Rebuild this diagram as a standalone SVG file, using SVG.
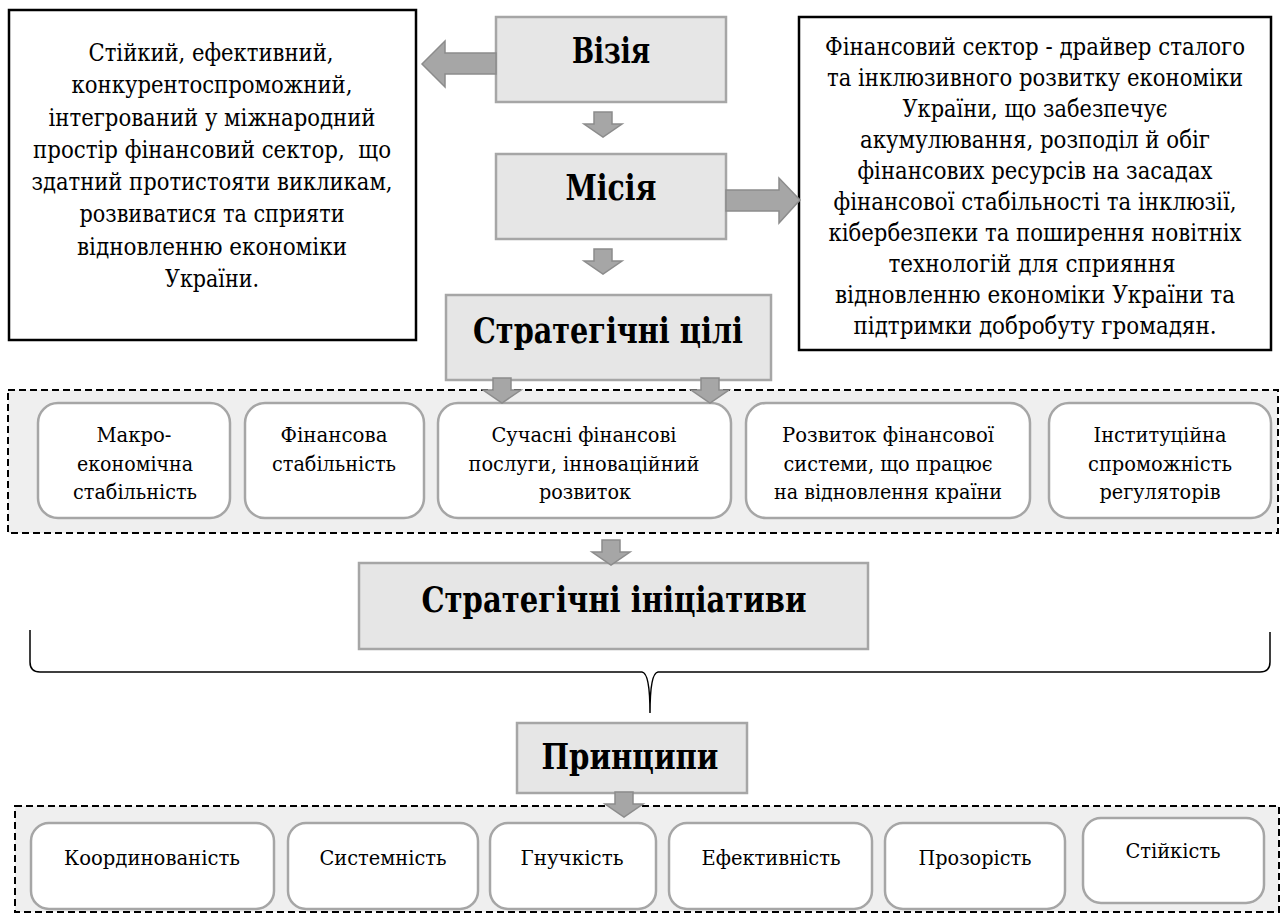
<svg xmlns="http://www.w3.org/2000/svg" width="1284" height="916" viewBox="0 0 1284 916">
<style>
text{font-family:'DejaVu Serif Condensed','DejaVu Serif','Liberation Serif',serif;fill:#000;text-anchor:middle}
.desc{font-size:23.5px}
.head{font-size:35px;font-weight:bold}
.item{font-size:20.5px}
.blk{fill:#fff;stroke:#000;stroke-width:2.5}
.grey{fill:#e6e6e6;stroke:#a6a6a6;stroke-width:2.5}
.cont{fill:#efefef;stroke:#000;stroke-width:2;stroke-dasharray:7 4}
.rbox{fill:#fff;stroke:#a6a6a6;stroke-width:2.5}
.arr{fill:#a6a6a6;stroke:#8c8c8c;stroke-width:1.5}
</style>
<defs>
<path id="dn" d="M-9,0 H9 V12 H19 L0,25 L-19,12 H-9 Z"/>
</defs>

<g id="vision-text">
<rect class="blk" x="9" y="10" width="407" height="330"/>
<text class="desc" x="211" y="61" textLength="245" lengthAdjust="spacingAndGlyphs">Стійкий, ефективний,</text>
<text class="desc" x="212" y="93" textLength="281" lengthAdjust="spacingAndGlyphs">конкурентоспроможний,</text>
<text class="desc" x="212" y="126" textLength="327" lengthAdjust="spacingAndGlyphs">інтегрований у міжнародний</text>
<text class="desc" x="212" y="158" textLength="358" lengthAdjust="spacingAndGlyphs" xml:space="preserve">простір фінансовий сектор,  що</text>
<text class="desc" x="212" y="190" textLength="361" lengthAdjust="spacingAndGlyphs">здатний протистояти викликам,</text>
<text class="desc" x="212" y="222" textLength="265" lengthAdjust="spacingAndGlyphs">розвиватися та сприяти</text>
<text class="desc" x="212" y="255" textLength="270" lengthAdjust="spacingAndGlyphs">відновленню економіки</text>
<text class="desc" x="212" y="287" textLength="94" lengthAdjust="spacingAndGlyphs">України.</text>
</g>

<g id="mission-text">
<rect class="blk" x="799" y="17" width="472" height="333"/>
<text class="desc" x="1035" y="55" textLength="420" lengthAdjust="spacingAndGlyphs">Фінансовий сектор - драйвер сталого</text>
<text class="desc" x="1035" y="86" textLength="416" lengthAdjust="spacingAndGlyphs">та інклюзивного розвитку економіки</text>
<text class="desc" x="1035" y="117" textLength="265" lengthAdjust="spacingAndGlyphs">України, що забезпечує</text>
<text class="desc" x="1035" y="148" textLength="350" lengthAdjust="spacingAndGlyphs">акумулювання, розподіл й обіг</text>
<text class="desc" x="1035" y="179" textLength="355" lengthAdjust="spacingAndGlyphs">фінансових ресурсів на засадах</text>
<text class="desc" x="1035" y="210" textLength="403" lengthAdjust="spacingAndGlyphs">фінансової стабільності та інклюзії,</text>
<text class="desc" x="1035" y="241" textLength="413" lengthAdjust="spacingAndGlyphs">кібербезпеки та поширення новітніх</text>
<text class="desc" x="1032" y="272" textLength="287" lengthAdjust="spacingAndGlyphs">технологій для сприяння</text>
<text class="desc" x="1035" y="303" textLength="400" lengthAdjust="spacingAndGlyphs">відновленню економіки України та</text>
<text class="desc" x="1035" y="334" textLength="363" lengthAdjust="spacingAndGlyphs">підтримки добробуту громадян.</text>
</g>

<g id="vision">
<rect class="grey" x="496" y="17" width="230" height="85"/>
<text class="head" x="611" y="63" textLength="78" lengthAdjust="spacingAndGlyphs">Візія</text>
</g>

<g id="mission">
<rect class="grey" x="496" y="154" width="230" height="85"/>
<text class="head" x="611" y="200" textLength="91" lengthAdjust="spacingAndGlyphs">Місія</text>
</g>

<g id="goals-title">
<rect class="grey" x="446" y="295" width="325" height="85"/>
<text class="head" x="608" y="343" textLength="270" lengthAdjust="spacingAndGlyphs">Стратегічні цілі</text>
</g>

<g id="goals">
<rect class="cont" x="8" y="390" width="1270" height="143"/>
<g id="goal-1">
<rect class="rbox" x="38" y="403" width="192" height="115" rx="20"/>
<text class="item" x="134" y="442" textLength="75" lengthAdjust="spacingAndGlyphs">Макро-</text>
<text class="item" x="135" y="471" textLength="116" lengthAdjust="spacingAndGlyphs">економічна</text>
<text class="item" x="135" y="499" textLength="124" lengthAdjust="spacingAndGlyphs">стабільність</text>
</g>
<g id="goal-2">
<rect class="rbox" x="245" y="403" width="179" height="115" rx="20"/>
<text class="item" x="334" y="442" textLength="107" lengthAdjust="spacingAndGlyphs">Фінансова</text>
<text class="item" x="334" y="471" textLength="124" lengthAdjust="spacingAndGlyphs">стабільність</text>
</g>
<g id="goal-3">
<rect class="rbox" x="438" y="403" width="293" height="115" rx="20"/>
<text class="item" x="584" y="442" textLength="185" lengthAdjust="spacingAndGlyphs">Сучасні фінансові</text>
<text class="item" x="584" y="471" textLength="231" lengthAdjust="spacingAndGlyphs">послуги, інноваційний</text>
<text class="item" x="585" y="499" textLength="92" lengthAdjust="spacingAndGlyphs">розвиток</text>
</g>
<g id="goal-4">
<rect class="rbox" x="746" y="403" width="284" height="115" rx="20"/>
<text class="item" x="888" y="442" textLength="212" lengthAdjust="spacingAndGlyphs">Розвиток фінансової</text>
<text class="item" x="888" y="471" textLength="209" lengthAdjust="spacingAndGlyphs">системи, що працює</text>
<text class="item" x="888" y="499" textLength="228" lengthAdjust="spacingAndGlyphs">на відновлення країни</text>
</g>
<g id="goal-5">
<rect class="rbox" x="1049" y="403" width="222" height="115" rx="20"/>
<text class="item" x="1160" y="442" textLength="133" lengthAdjust="spacingAndGlyphs">Інституційна</text>
<text class="item" x="1160" y="471" textLength="144" lengthAdjust="spacingAndGlyphs">спроможність</text>
<text class="item" x="1160" y="499" textLength="121" lengthAdjust="spacingAndGlyphs">регуляторів</text>
</g>
</g>

<g id="initiatives">
<rect class="grey" x="359" y="563" width="509" height="86"/>
<text class="head" x="614" y="612" textLength="385" lengthAdjust="spacingAndGlyphs">Стратегічні ініціативи</text>
</g>

<g id="principles-title">
<rect class="grey" x="517" y="723" width="230" height="70"/>
<text class="head" x="630" y="769" textLength="177" lengthAdjust="spacingAndGlyphs">Принципи</text>
</g>

<g id="principles">
<rect class="cont" x="15" y="806" width="1264" height="106"/>
<g id="pr-1"><rect class="rbox" x="31" y="823" width="243" height="86" rx="18"/><text class="item" x="152" y="865" textLength="176" lengthAdjust="spacingAndGlyphs">Координованість</text></g>
<g id="pr-2"><rect class="rbox" x="288" y="823" width="190" height="86" rx="18"/><text class="item" x="383" y="865" textLength="127" lengthAdjust="spacingAndGlyphs">Системність</text></g>
<g id="pr-3"><rect class="rbox" x="490" y="823" width="166" height="86" rx="18"/><text class="item" x="572" y="865" textLength="103" lengthAdjust="spacingAndGlyphs">Гнучкість</text></g>
<g id="pr-4"><rect class="rbox" x="669" y="823" width="203" height="86" rx="18"/><text class="item" x="771" y="865" textLength="139" lengthAdjust="spacingAndGlyphs">Ефективність</text></g>
<g id="pr-5"><rect class="rbox" x="885" y="823" width="180" height="86" rx="18"/><text class="item" x="975" y="865" textLength="113" lengthAdjust="spacingAndGlyphs">Прозорість</text></g>
<g id="pr-6"><rect class="rbox" x="1083" y="818" width="181" height="85" rx="18"/><text class="item" x="1173" y="858" textLength="95" lengthAdjust="spacingAndGlyphs">Стійкість</text></g>
</g>

<g id="connectors">
<polygon class="arr" points="496,53 445,53 445,41 422,64 445,87 445,74 496,74"/>
<polygon class="arr" points="726,190 779,190 779,178 800,200 779,223 779,211 726,211"/>
<use href="#dn" class="arr" x="603" y="112"/>
<use href="#dn" class="arr" x="603" y="249"/>
<use href="#dn" class="arr" x="502" y="378"/>
<use href="#dn" class="arr" x="710" y="378"/>
<use href="#dn" class="arr" x="611" y="540"/>
<use href="#dn" class="arr" x="624" y="792"/>
<path d="M30,630 L30,662 Q30,672 40,672 L642,672 Q650,673 650,713 Q650,673 658,672 L1260,672 Q1270,672 1270,662 L1270,632" fill="none" stroke="#000" stroke-width="1.5"/>
</g>
</svg>
